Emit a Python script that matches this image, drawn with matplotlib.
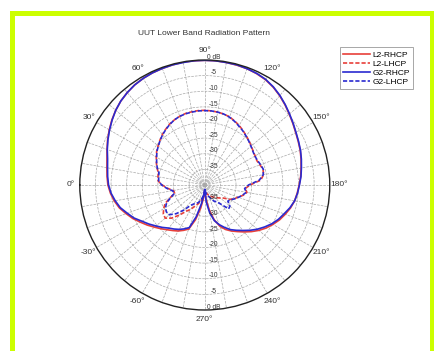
import numpy as np
import matplotlib
matplotlib.use("Agg")
import matplotlib.pyplot as plt
from matplotlib.patches import Rectangle

plt.rcParams['font.family'] = ['Liberation Sans', 'DejaVu Sans']

# sample angles (deg), 0 = left, 90 = top, clockwise
theta_deg = np.arange(-90, 271, 5)

L2_RHCP = [-38.0, -36.0, -32.5, -28.5, -25.0, -24.0, -23.0, -22.2, -21.3, -20.2,
           -19.0, -17.6, -16.2, -14.6, -13.2, -11.7, -10.6, -9.7, -9.0, -8.6,
           -8.2, -7.6, -6.7, -5.7, -4.7, -3.7, -2.8, -2.0, -1.4, -0.9,
           -0.6, -0.4, -0.3, -0.2, -0.1, -0.1, -0.1, -0.1, -0.2, -0.3,
           -0.4, -0.7, -1.1, -1.8, -2.7, -3.7, -4.7, -5.6, -6.4, -7.0,
           -7.5, -8.1, -8.7, -9.2, -9.8, -10.3, -10.8, -11.6, -12.6, -13.6,
           -14.8, -16.0, -17.4, -18.9, -20.4, -21.8, -23.0, -24.3, -26.0, -28.5,
           -32.0, -35.5, -38.0]
G2_RHCP = [-38.5, -37.0, -34.0, -29.5, -25.5, -24.5, -23.6, -22.8, -22.0, -20.8,
           -19.6, -18.2, -16.8, -15.0, -13.6, -12.0, -10.9, -9.9, -9.2, -8.8,
           -8.4, -7.8, -6.8, -5.8, -4.8, -3.8, -2.8, -2.0, -1.4, -0.9,
           -0.6, -0.4, -0.3, -0.2, -0.2, -0.1, -0.1, -0.1, -0.2, -0.2,
           -0.4, -0.6, -1.0, -1.7, -2.6, -3.6, -4.6, -5.5, -6.3, -6.9,
           -7.4, -8.0, -8.6, -9.1, -9.7, -10.2, -10.8, -11.8, -13.0, -14.0,
           -15.2, -16.6, -18.0, -19.5, -21.0, -22.3, -23.5, -25.0, -26.5, -28.2,
           -31.0, -34.5, -38.5]
L2_LHCP = [-38.0, -37.0, -35.5, -34.5, -33.5, -32.5, -31.0, -29.8, -27.5, -25.0,
           -23.5, -23.8, -24.8, -26.0, -28.3, -30.0, -29.8, -28.0, -26.4, -25.0,
           -24.8, -24.6, -23.7, -22.9, -22.1, -21.2, -20.5, -19.7, -18.9, -18.2,
           -17.5, -17.0, -16.6, -16.3, -16.2, -16.1, -16.1, -16.2, -16.3, -16.5,
           -16.8, -17.4, -18.0, -18.7, -19.4, -20.0, -20.6, -21.1, -21.4, -21.6,
           -21.2, -20.7, -20.9, -22.0, -25.5, -27.0, -26.3, -27.3, -28.6, -29.6,
           -30.8, -32.7, -33.5, -34.2, -34.8, -35.3, -35.7, -36.2, -36.6, -37.0,
           -37.4, -37.8, -38.0]
G2_LHCP = [-38.5, -37.5, -36.0, -35.0, -34.0, -33.5, -33.0, -32.0, -29.5, -27.0,
           -25.2, -25.0, -25.5, -26.5, -28.5, -30.0, -29.5, -27.8, -26.2, -25.2,
           -25.0, -24.8, -23.8, -23.0, -22.2, -21.3, -20.6, -19.8, -19.0, -18.3,
           -17.6, -17.0, -16.6, -16.4, -16.3, -16.2, -16.2, -16.2, -16.3, -16.5,
           -16.9, -17.5, -18.2, -18.8, -19.5, -20.1, -20.7, -21.2, -21.5, -21.4,
           -21.0, -20.6, -21.0, -22.5, -26.0, -27.2, -26.5, -27.5, -28.5, -29.5,
           -30.5, -31.0, -29.5, -29.2, -32.0, -33.5, -34.0, -35.0, -36.0, -36.5,
           -37.0, -38.0, -38.5]

angle_ticks = [0, 30, 60, 90, 120, 150, 180, 210, 240, 270, 300, 330]
angle_labels = ['0°', '30°', '60°', '90°', '120°', '150°', '180°', '210°',
                '240°', '270°', '-60°', '-30°']
ring_values = [0, -5, -10, -15, -20, -25, -30, -35]
ring_labels = ['0 dB', '-5', '-10', '-15', '-20', '-25', '-30', '-35']

red = '#e8403a'
blue = '#2a2ad0'

fig = plt.figure(figsize=(4.35, 3.51), dpi=100)
ax = fig.add_axes([0.1834, 0.1168, 0.5747, 0.7123], projection='polar')
ax.set_theta_zero_location('W')
ax.set_theta_direction(-1)
ax.set_ylim(-40, 0)

th = np.deg2rad(theta_deg)
ax.plot(th, L2_RHCP, color=red, lw=1.2, label='L2-RHCP')
ax.plot(th, L2_LHCP, color=red, lw=1.2, ls=(0, (2.5, 1.2)), label='L2-LHCP')
ax.plot(th, G2_RHCP, color=blue, lw=1.2, label='G2-RHCP')
ax.plot(th, G2_LHCP, color=blue, lw=1.2, ls=(0, (2.5, 1.2)), label='G2-LHCP')

# spokes every 10 deg, labels every 30
spokes = np.arange(0, 360, 10)
ax.set_xticks(np.deg2rad(spokes))
ax.set_xticklabels([angle_labels[angle_ticks.index(s)] if s in angle_ticks else ''
                    for s in spokes], fontsize=6, color='#333333')
ax.tick_params(axis='x', length=0, pad=-0.5)
ax.set_yticks(ring_values[1:])
ax.set_yticklabels([])
ax.grid(color='#a8a8a8', ls='--', lw=0.5)
ax.spines['polar'].set_color('#222222')
ax.spines['polar'].set_linewidth(1.0)

# radial labels along the vertical spoke, above and below centre
for v, lab in zip(ring_values, ring_labels):
    ax.annotate(lab, xy=(np.deg2rad(90), v), xytext=(6.5, 2), textcoords='offset points',
                fontsize=4.8, color='#333333', ha='center', va='center')
    ax.annotate(lab, xy=(np.deg2rad(270), v), xytext=(6.5, 2), textcoords='offset points',
                fontsize=4.8, color='#333333', ha='center', va='center')

fig.text(0.47, 0.905, 'UUT Lower Band Radiation Pattern', fontsize=6,
         color='#333333', ha='center', va='center')

leg = ax.legend(loc='upper left', bbox_to_anchor=(0.772, 0.877),
                bbox_transform=fig.transFigure, fontsize=6, handlelength=3.2,
                handletextpad=0.3, borderpad=0.4, labelspacing=0.15,
                fancybox=False, framealpha=1)
leg.get_frame().set_edgecolor('#999999')
leg.get_frame().set_linewidth(0.6)

fig.patches.append(Rectangle((12.5 / 435, -0.2), 420 / 435, 1.2 - 12.5 / 351,
                             transform=fig.transFigure, fill=False,
                             edgecolor='#ccff00', linewidth=3.6, zorder=0))

fig.savefig('out.png', dpi=100)
